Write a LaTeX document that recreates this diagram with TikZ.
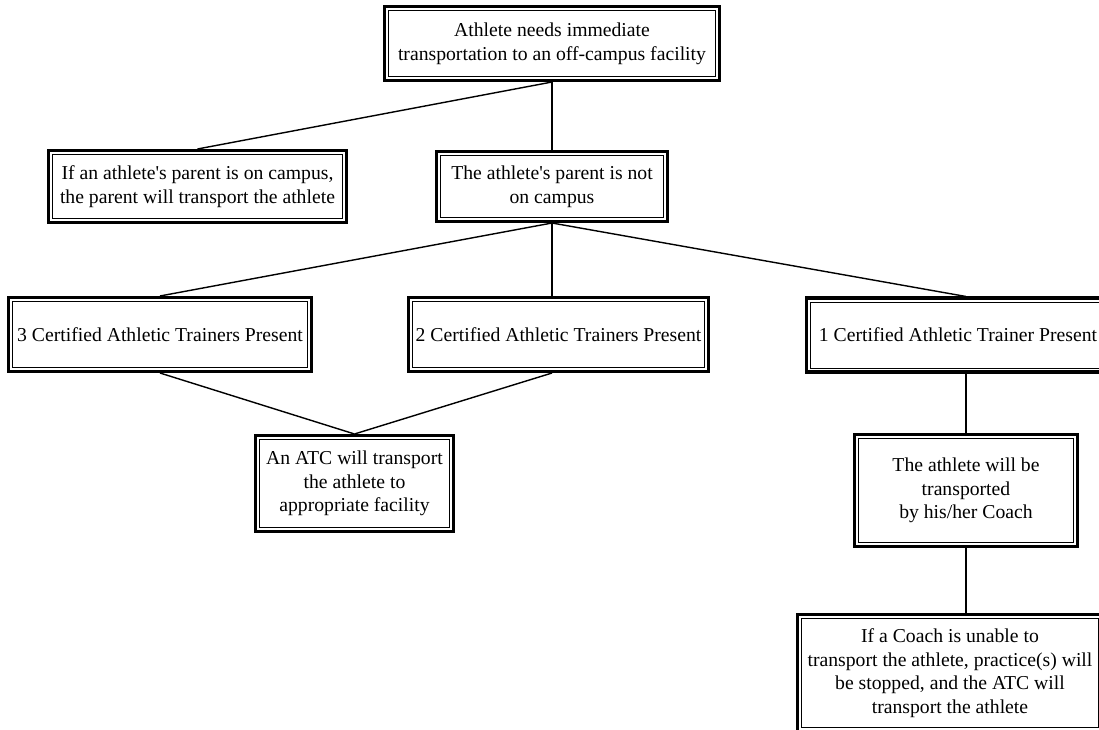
\documentclass[tikz,border=0pt]{standalone}
\usepackage{fontspec}
\setmainfont{Liberation Serif}
\begin{document}
\begin{tikzpicture}[x=0.025cm, y=0.025cm,
        box/.style={draw, line width=0.7pt, align=center, inner sep=1pt, outer sep=0.1375cm,
            font=\fontsize{14}{16.8}\selectfont},
        frame/.style={line width=2.3pt},
        link/.style={line width=1pt}]
    \useasboundingbox (0,0) rectangle (1099,-730);
    \clip (0,0) rectangle (1099,-730);

    \node[box, minimum width=8.175cm, minimum height=1.65cm] (need) at (552,-43.5)
        {Athlete needs immediate\\transportation to an off-campus facility};
    \node[box, minimum width=7.25cm, minimum height=1.6cm] (parent) at (197.5,-186.5)
        {If an athlete\textquotesingle s parent is on campus,\\the parent will transport the athlete};
    \node[box, minimum width=5.575cm, minimum height=1.55cm] (noparent) at (552,-186.5)
        {The athlete\textquotesingle s parent is not\\on campus};

    \node[box, minimum width=7.375cm, minimum height=1.65cm] (three) at (160,-334.5)
        {3 Certified Athletic Trainers Present};
    \node[box, minimum width=7.3cm, minimum height=1.65cm] (two) at (558.5,-334.5)
        {2 Certified Athletic Trainers Present};
    \node[box, minimum width=7.375cm, minimum height=1.65cm] (one) at (958,-335)
        {1 Certified Athletic Trainer Present};

    \node[box, minimum width=4.75cm, minimum height=2.2cm] (atc) at (354.5,-483.5)
        {An ATC will transport\\the athlete to\\appropriate facility};
    \node[box, minimum width=5.375cm, minimum height=2.6cm] (coach) at (966,-490.5)
        {The athlete will be\\transported\\by his/her Coach};
    \node[box, minimum width=7.425cm, minimum height=2.725cm] (stop) at (950,-673)
        {If a Coach is unable to\\transport the athlete, practice(s) will\\be stopped, and the ATC will\\transport the athlete};

    \foreach \n in {need,parent,noparent,three,two,one,atc,coach,stop} {
        \draw[frame] ([shift={(1.5,-1.5)}]\n.north west) rectangle ([shift={(-1.5,1.5)}]\n.south east);
    }

    \draw[link] (need.south) -- (parent.north);
    \draw[link] (need.south) -- (noparent.north);
    \draw[link] (noparent.south) -- (three.north);
    \draw[link] (noparent.south) -- (noparent.south |- two.north);
    \draw[link] (noparent.south) -- (coach.north |- one.north);
    \draw[link] (three.south) -- (atc.north);
    \draw[link] (noparent.south |- two.south) -- (atc.north);
    \draw[link] (coach.north |- one.south) -- (coach.north);
    \draw[link] (coach.south) -- (coach.south |- stop.north);
\end{tikzpicture}
\end{document}
